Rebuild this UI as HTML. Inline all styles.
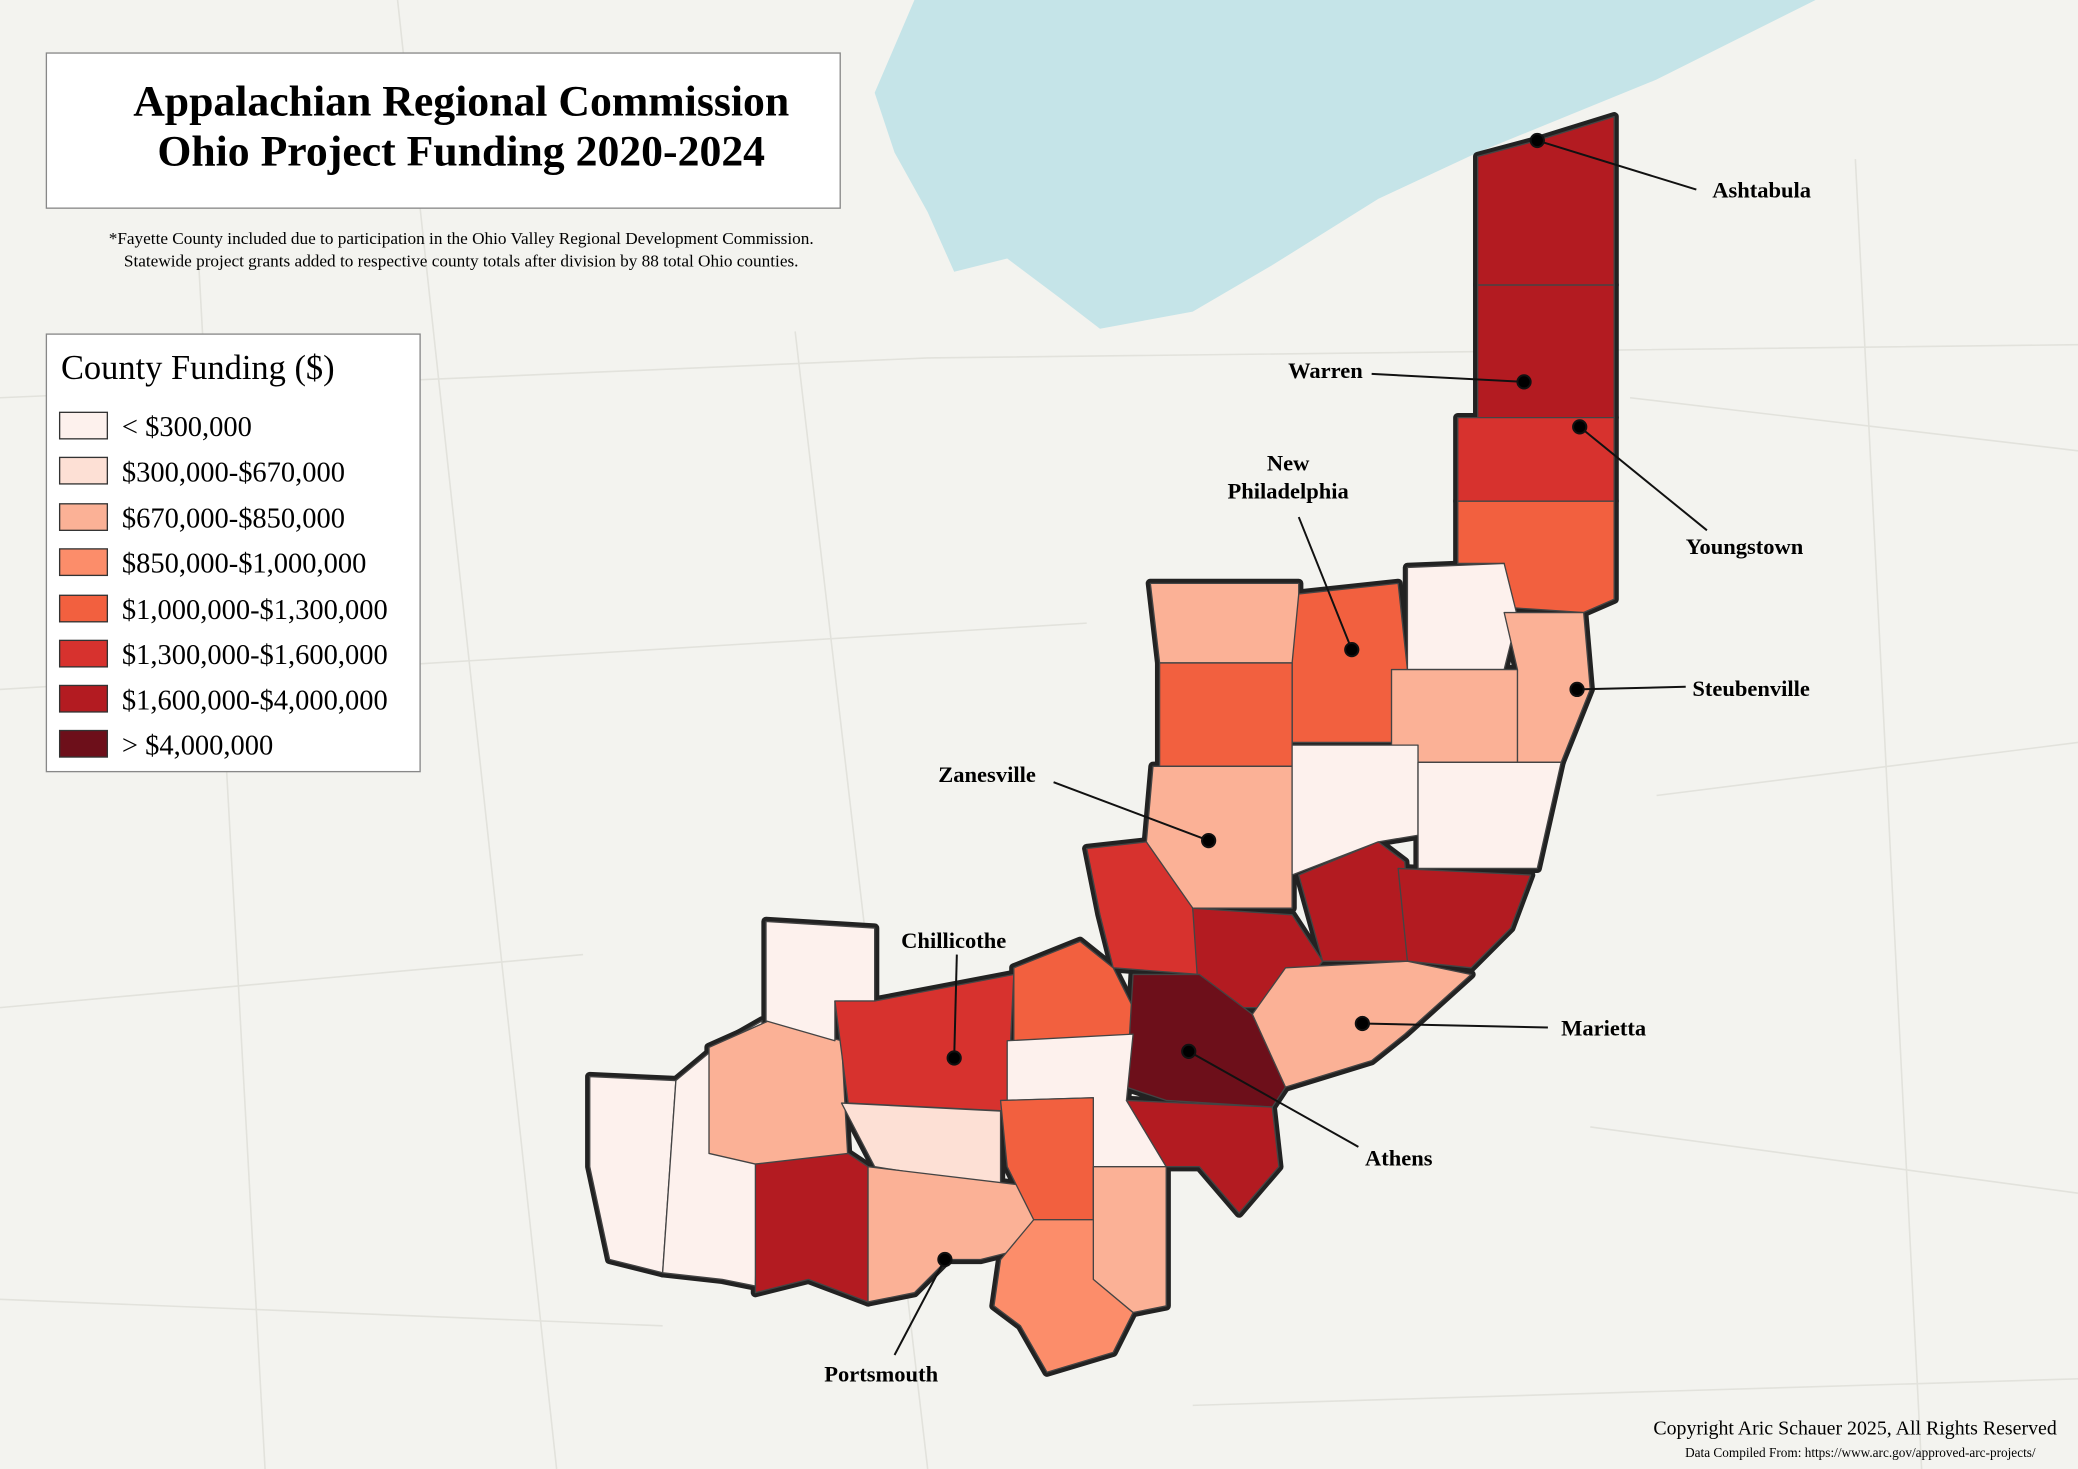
<!DOCTYPE html>
<html><head><meta charset="utf-8"><style>
html,body{margin:0;padding:0;background:#f3f3ef;}
svg{display:block}
text{font-family:"Liberation Serif",serif;}
</style></head><body>
<svg width="2078" height="1469" viewBox="0 0 1568 1108" preserveAspectRatio="none" xmlns="http://www.w3.org/2000/svg">
<defs>
<g id="c">
<path d="M1115 118 L1160 106 L1218 88 L1218 215 L1115 215 Z" fill="#b31b21"/>
<path d="M1115 215 L1218 215 L1218 315 L1115 315 Z" fill="#b31b21"/>
<path d="M1100 315 L1218 315 L1218 378 L1100 378 Z" fill="#d7322e"/>
<path d="M1100 378 L1218 378 L1218 452 L1195 462 L1135 458 L1135 425 L1100 425 Z" fill="#f2603f"/>
<path d="M868 440 L980 440 L980 500 L875 500 Z" fill="#fbb196"/>
<path d="M980 448 L1055 440 L1062 505 L1050 560 L975 560 L975 500 Z" fill="#f2603f"/>
<path d="M1062 428 L1135 425 L1145 465 L1135 505 L1062 505 Z" fill="#fdf1ed"/>
<path d="M1135 462 L1195 462 L1200 520 L1178 575 L1145 575 L1145 505 Z" fill="#fbb196"/>
<path d="M875 500 L975 500 L975 578 L875 578 Z" fill="#f2603f"/>
<path d="M1050 505 L1145 505 L1145 575 L1050 575 Z" fill="#fbb196"/>
<path d="M870 578 L975 578 L975 685 L900 685 L880 660 L865 635 Z" fill="#fbb196"/>
<path d="M975 562 L1070 562 L1070 630 L1040 635 L975 660 Z" fill="#fdf1ed"/>
<path d="M1070 575 L1178 575 L1160 655 L1070 655 Z" fill="#fdf1ed"/>
<path d="M820 640 L865 635 L900 685 L905 735 L840 730 L830 690 Z" fill="#d7322e"/>
<path d="M900 685 L975 690 L998 725 L970 760 L905 760 Z" fill="#b31b21"/>
<path d="M980 660 L1040 635 L1060 650 L1065 725 L998 725 Z" fill="#b31b21"/>
<path d="M1055 655 L1155 660 L1140 700 L1110 730 L1062 725 Z" fill="#b31b21"/>
<path d="M765 730 L815 710 L840 730 L855 760 L855 782 L765 785 Z" fill="#f2603f"/>
<path d="M855 735 L905 735 L945 765 L970 820 L960 835 L880 830 L850 820 Z" fill="#6d0f1a"/>
<path d="M970 730 L1062 725 L1110 735 L1060 780 L1035 800 L970 820 L945 765 Z" fill="#fbb196"/>
<path d="M445 812 L510 815 L500 960 L460 950 L445 880 Z" fill="#fdf1ed"/>
<path d="M510 815 L540 790 L575 770 L570 970 L545 965 L500 960 Z" fill="#fdf1ed"/>
<path d="M535 790 L580 770 L635 785 L640 878 L570 878 L535 870 Z" fill="#fbb196"/>
<path d="M578 695 L660 700 L660 755 L630 755 L630 785 L578 770 Z" fill="#fdf1ed"/>
<path d="M630 755 L660 755 L765 735 L760 838 L640 832 Z" fill="#d7322e"/>
<path d="M760 785 L855 780 L850 830 L880 880 L825 880 L825 828 L760 830 Z" fill="#fdf1ed"/>
<path d="M635 832 L755 838 L755 895 L660 880 Z" fill="#fde0d5"/>
<path d="M570 878 L640 870 L655 880 L655 982 L610 965 L570 975 Z" fill="#b31b21"/>
<path d="M655 880 L780 895 L780 940 L740 950 L715 950 L690 975 L655 982 Z" fill="#fbb196"/>
<path d="M755 830 L825 828 L825 920 L780 920 L760 880 Z" fill="#f2603f"/>
<path d="M850 830 L960 835 L965 880 L935 915 L905 880 L880 880 Z" fill="#b31b21"/>
<path d="M825 880 L880 880 L880 985 L855 990 L825 970 L825 920 Z" fill="#fbb196"/>
<path d="M780 920 L825 920 L825 965 L855 990 L840 1020 L790 1035 L770 1000 L750 985 L755 950 Z" fill="#fc8d6a"/>
</g>
</defs>
<rect width="1568" height="1108" fill="#f3f3ef"/>
<g stroke="#e2e2dc" stroke-width="1.2" fill="none">
<path d="M0 300 L700 270 L1568 260"/><path d="M0 520 L820 470"/><path d="M300 0 L420 1108"/><path d="M600 250 L700 1108"/><path d="M0 760 L440 720"/><path d="M1230 300 L1568 340"/><path d="M1250 600 L1568 560"/><path d="M1200 850 L1568 900"/><path d="M0 980 L500 1000"/><path d="M900 1060 L1568 1040"/><path d="M150 200 L200 1108"/><path d="M1400 120 L1450 1108"/>
</g>
<path d="M690 0 L1370 0 L1250 60 L1115 115 L1040 150 L960 200 L900 235 L830 248 L800 225 L760 195 L720 205 L700 160 L675 115 L660 70 Z" fill="#c5e4e8"/>
<use href="#c" stroke="#222" stroke-width="7" stroke-linejoin="round"/>
<use href="#c" stroke="#444" stroke-width="1" stroke-linejoin="round"/>
<g stroke="#111" stroke-width="1.5" fill="#000">
<line x1="1160" y1="106" x2="1280" y2="143"/><circle cx="1160" cy="106" r="5"/>
<line x1="1035" y1="282" x2="1150" y2="288"/><circle cx="1150" cy="288" r="5"/>
<line x1="1192" y1="322" x2="1288" y2="400"/><circle cx="1192" cy="322" r="5"/>
<line x1="980" y1="390" x2="1020" y2="490"/><circle cx="1020" cy="490" r="5"/>
<line x1="1190" y1="520" x2="1272" y2="518"/><circle cx="1190" cy="520" r="5"/>
<line x1="795" y1="590" x2="912" y2="634"/><circle cx="912" cy="634" r="5"/>
<line x1="722" y1="720" x2="720" y2="798"/><circle cx="720" cy="798" r="5"/>
<line x1="1028" y1="772" x2="1168" y2="775"/><circle cx="1028" cy="772" r="5"/>
<line x1="897" y1="793" x2="1025" y2="865"/><circle cx="897" cy="793" r="5"/>
<line x1="713" y1="950" x2="675" y2="1022"/><circle cx="713" cy="950" r="5"/>
</g>
<g font-weight="bold" font-size="17" fill="#000">
<text x="1292" y="149">Ashtabula</text>
<text x="972" y="285">Warren</text>
<text x="972" y="355" text-anchor="middle">New</text>
<text x="972" y="376" text-anchor="middle">Philadelphia</text>
<text x="1272" y="418">Youngstown</text>
<text x="1277" y="525">Steubenville</text>
<text x="708" y="590">Zanesville</text>
<text x="680" y="715">Chillicothe</text>
<text x="1178" y="781">Marietta</text>
<text x="1030" y="879">Athens</text>
<text x="622" y="1042">Portsmouth</text>
</g>
<rect x="35" y="40" width="599" height="117" fill="#fff" stroke="#888" stroke-width="1"/>
<text x="348" y="87" text-anchor="middle" font-size="33" font-weight="bold">Appalachian Regional Commission</text>
<text x="348" y="125" text-anchor="middle" font-size="33" font-weight="bold">Ohio Project Funding 2020-2024</text>
<text x="348" y="184" text-anchor="middle" font-size="13">*Fayette County included due to participation in the Ohio Valley Regional Development Commission.</text>
<text x="348" y="201" text-anchor="middle" font-size="13">Statewide project grants added to respective county totals after division by 88 total Ohio counties.</text>
<rect x="35" y="252" width="282" height="330" fill="#fff" stroke="#888" stroke-width="1"/>
<text x="46" y="286" font-size="26">County Funding ($)</text>
<g stroke="#333" stroke-width="1" font-size="21.5">
<rect x="45" y="311" width="36" height="20" fill="#fdf1ed"/><text x="92" y="329" stroke="none">&lt; $300,000</text>
<rect x="45" y="345" width="36" height="20" fill="#fde0d5"/><text x="92" y="363" stroke="none">$300,000-$670,000</text>
<rect x="45" y="380" width="36" height="20" fill="#fbb196"/><text x="92" y="398" stroke="none">$670,000-$850,000</text>
<rect x="45" y="414" width="36" height="20" fill="#fc8d6a"/><text x="92" y="432" stroke="none">$850,000-$1,000,000</text>
<rect x="45" y="449" width="36" height="20" fill="#f2603f"/><text x="92" y="467" stroke="none">$1,000,000-$1,300,000</text>
<rect x="45" y="483" width="36" height="20" fill="#d7322e"/><text x="92" y="501" stroke="none">$1,300,000-$1,600,000</text>
<rect x="45" y="517" width="36" height="20" fill="#b31b21"/><text x="92" y="535" stroke="none">$1,600,000-$4,000,000</text>
<rect x="45" y="551" width="36" height="20" fill="#6d0f1a"/><text x="92" y="569" stroke="none">&gt; $4,000,000</text>
</g>
<text x="1552" y="1082" text-anchor="end" font-size="15">Copyright Aric Schauer 2025, All Rights Reserved</text>
<text x="1536" y="1099" text-anchor="end" font-size="10">Data Compiled From: https://www.arc.gov/approved-arc-projects/</text>
</svg>
</body></html>
